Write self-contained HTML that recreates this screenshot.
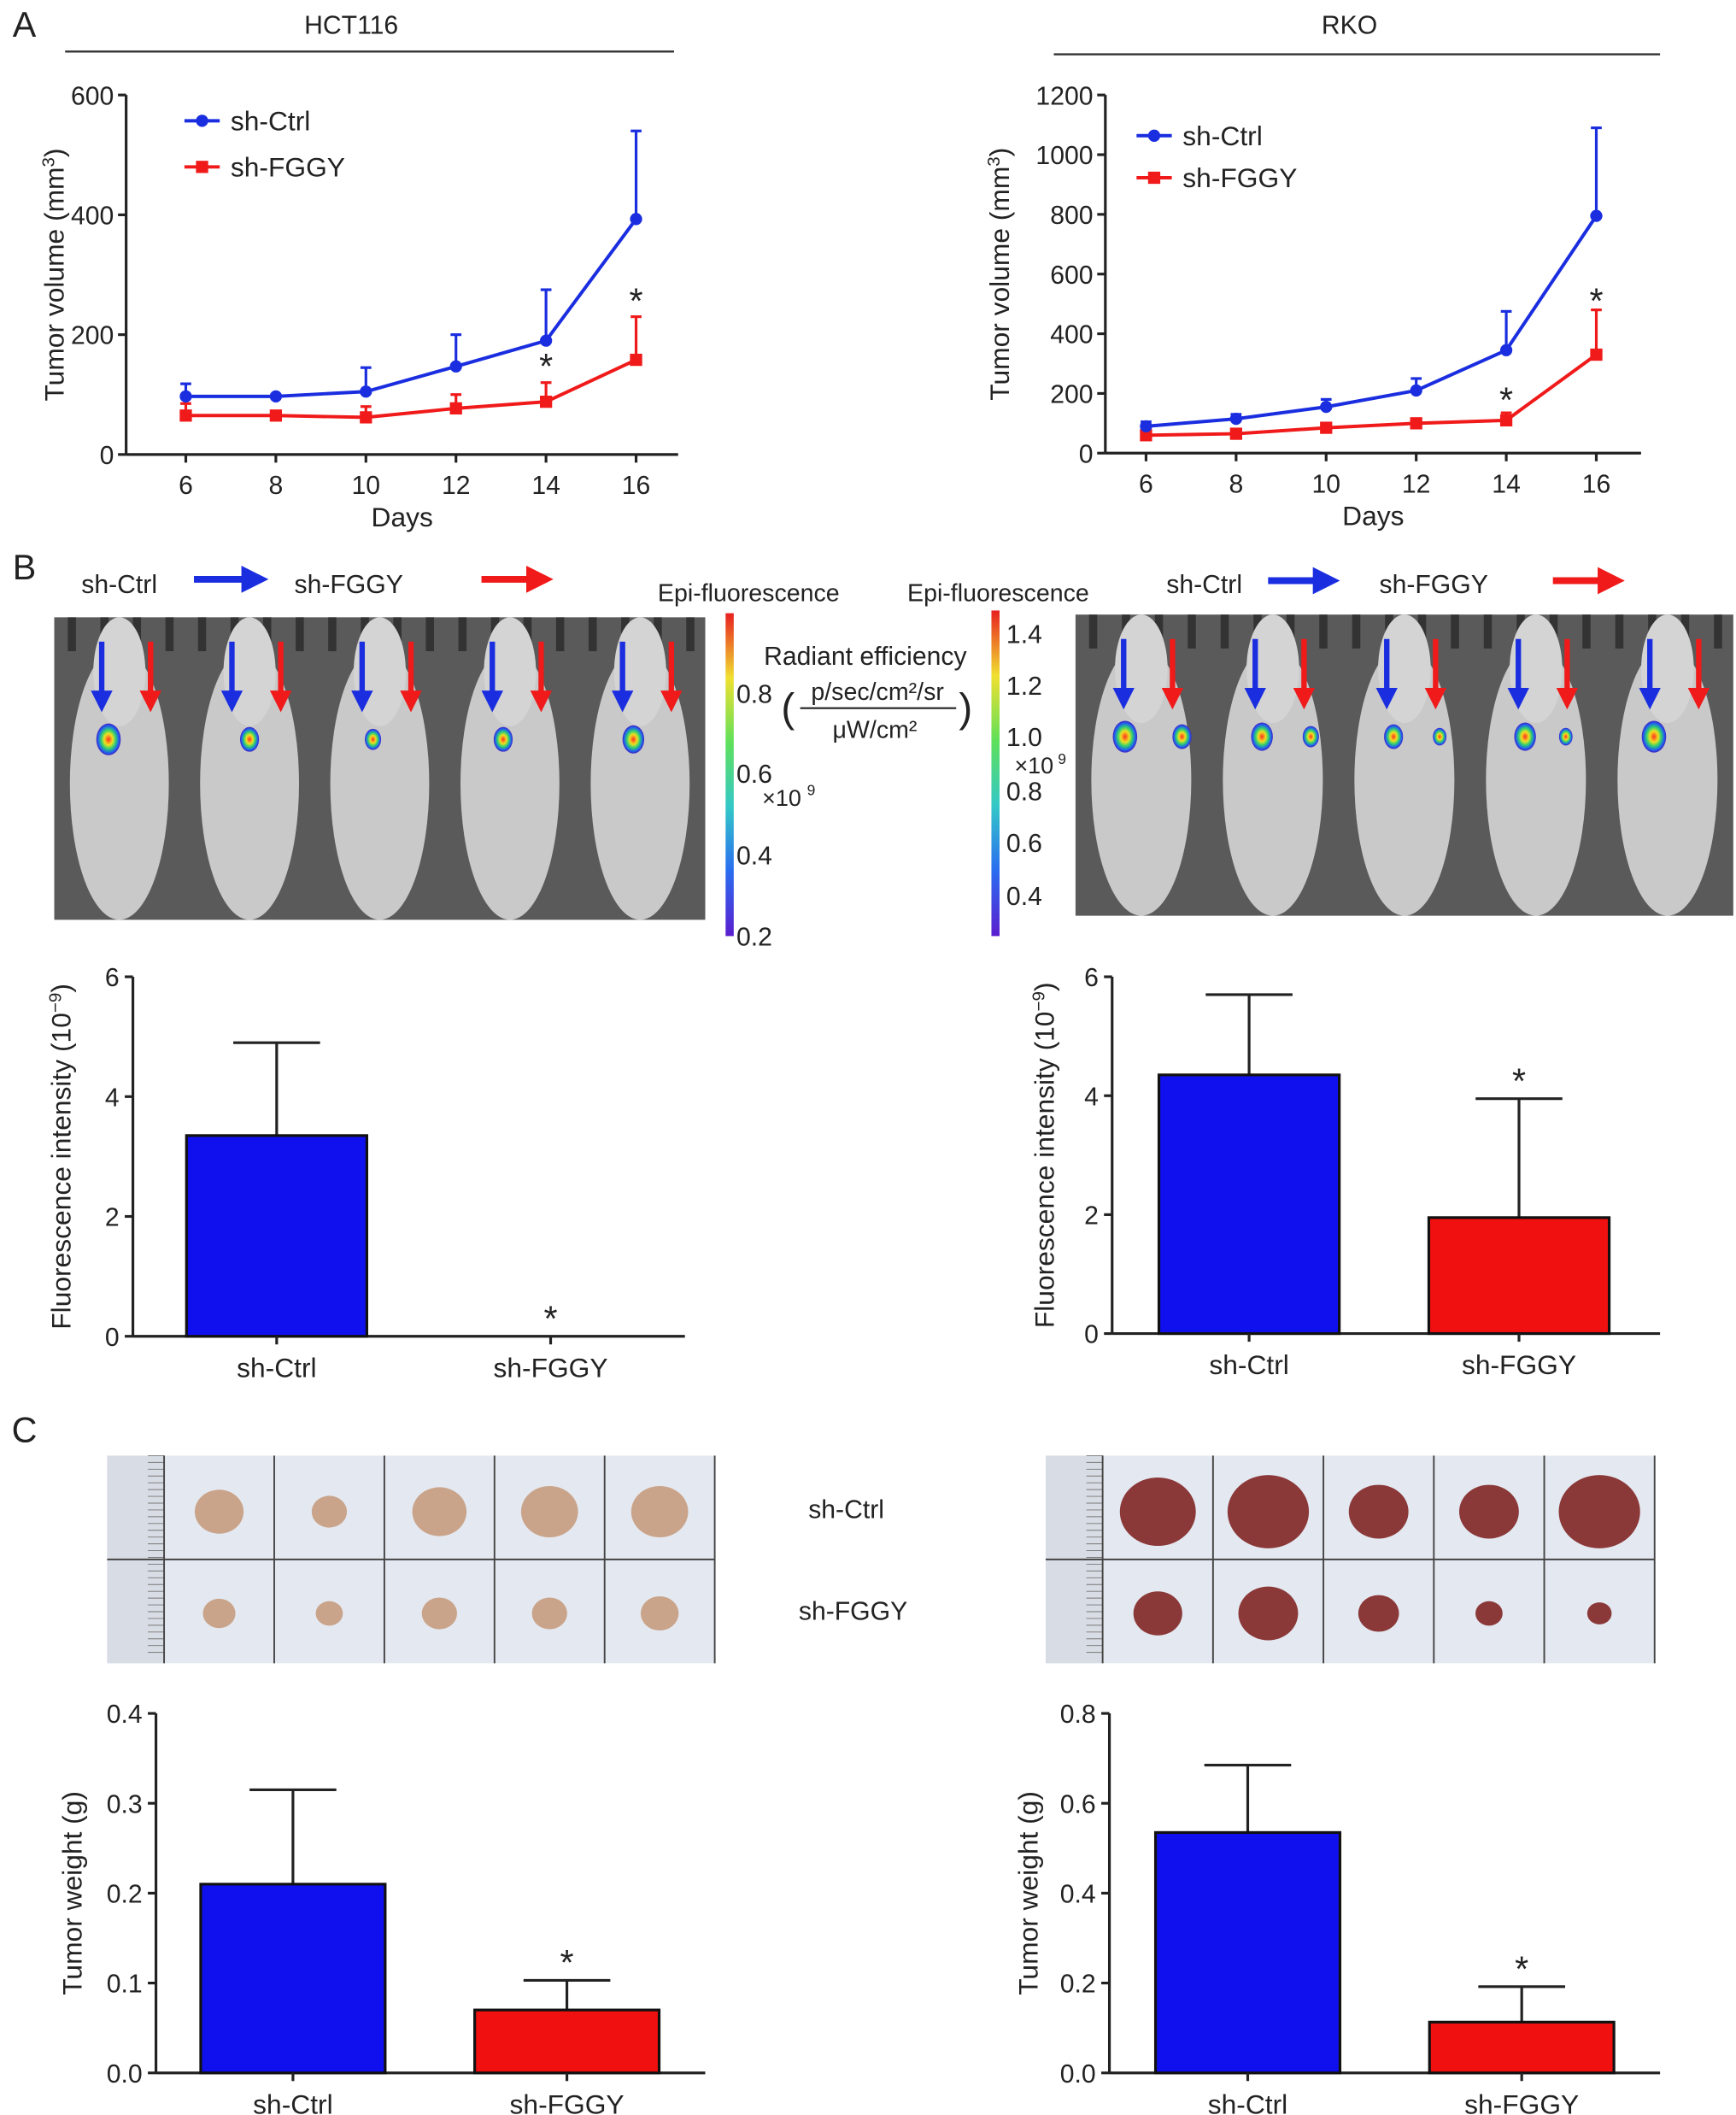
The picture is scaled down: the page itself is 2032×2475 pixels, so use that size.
<!DOCTYPE html>
<html><head><meta charset="utf-8">
<style>
html,body{margin:0;padding:0;background:#fff;}
svg{display:block;font-family:"Liberation Sans",Arial,sans-serif;}
</style></head>
<body>
<svg id="fig" width="2032" height="2475" viewBox="0 0 1280 1559" xmlns="http://www.w3.org/2000/svg">
<defs>
<linearGradient id="cb1" x1="0" y1="1" x2="0" y2="0">
<stop offset="0" stop-color="#5a1ecf"/><stop offset="0.2" stop-color="#2a6cf0"/><stop offset="0.4" stop-color="#33c8c8"/><stop offset="0.6" stop-color="#5fe05a"/><stop offset="0.8" stop-color="#f0e030"/><stop offset="1" stop-color="#e82020"/>
</linearGradient>
<radialGradient id="blob"><stop offset="0" stop-color="#ff3020"/><stop offset="0.35" stop-color="#f0e020"/><stop offset="0.6" stop-color="#30d070"/><stop offset="0.85" stop-color="#2060f0"/><stop offset="1" stop-color="#4020c0"/></radialGradient>
<marker id="ab" markerWidth="4" markerHeight="4" refX="2" refY="2" orient="auto"><path d="M0,0 L4,2 L0,4z" fill="#1a2ee0"/></marker>
<marker id="ar" markerWidth="4" markerHeight="4" refX="2" refY="2" orient="auto"><path d="M0,0 L4,2 L0,4z" fill="#f01a1a"/></marker>
</defs>
<g id="root"></g>
</svg>
<script>
// ---------- data ----------
const days = [6, 8, 10, 12, 14, 16];
const hctCtrl = [97, 97, 105, 147, 190, 393];
const hctCtrlErr = [118, 97, 145, 200, 275, 540];
const hctFggy = [65, 65, 62, 77, 88, 158];
const hctFggyErr = [85, 65, 80, 100, 120, 230];
const rkoCtrl = [90, 115, 155, 210, 345, 795];
const rkoCtrlErr = [105, 130, 180, 250, 475, 1090];
const rkoFggy = [60, 65, 85, 100, 110, 330];
const rkoFggyErr = [75, 80, 100, 112, 135, 480];
const groups = ["sh-Ctrl", "sh-FGGY"];
const fluorHct = [3.35, 0];
const fluorHctErr = [4.9, 0];
const fluorRko = [4.35, 1.95];
const fluorRkoErr = [5.7, 3.95];
const weightHct = [0.21, 0.07];
const weightHctErr = [0.315, 0.103];
const weightRko = [0.535, 0.113];
const weightRkoErr = [0.685, 0.192];
const hctYTicks = [0, 200, 400, 600];
const rkoYTicks = [0, 200, 400, 600, 800, 1000, 1200];
const fluorTicks = [0, 2, 4, 6];
const wHctTicks = ["0.0", "0.1", "0.2", "0.3", "0.4"];
const wRkoTicks = ["0.0", "0.2", "0.4", "0.6", "0.8"];

const NS = "http://www.w3.org/2000/svg";
const root = document.getElementById("root");
function el(tag, attrs, parent, text) {
  const e = document.createElementNS(NS, tag);
  for (const k in attrs) e.setAttribute(k, attrs[k]);
  if (text !== undefined) e.textContent = text;
  (parent || root).appendChild(e);
  return e;
}
function txt(x, y, s, size, anchor, parent, name) {
  const t = el("text", {x: x, y: y, "font-size": size, "text-anchor": anchor || "middle", fill: "#222"}, parent, s);
  
  
  return t;
}

// ---------- line chart ----------
function lineChart(name, ax, cfg) {
  const g = el("g", {});
  
  
  const ymax = cfg.yTicks[cfg.yTicks.length - 1];
  const sy = v => cfg.y0 - (v / ymax) * (cfg.y0 - cfg.y1);
  const sx = d => cfg.x6 + (d - 6) / 10 * (cfg.x16 - cfg.x6);
  el("line", {x1: cfg.ax, y1: cfg.y1, x2: cfg.ax, y2: cfg.y0, stroke: "#222", "stroke-width": 2}, g);
  el("line", {x1: cfg.ax, y1: cfg.y0, x2: cfg.xEnd, y2: cfg.y0, stroke: "#222", "stroke-width": 2}, g);
  cfg.yTicks.forEach(v => {
    el("line", {x1: cfg.ax - 6, y1: sy(v), x2: cfg.ax, y2: sy(v), stroke: "#222", "stroke-width": 2}, g);
    txt(cfg.ax - 9, sy(v) + 7, String(v), 19, "end", g, "y-tick-label");
  });
  days.forEach(d => {
    el("line", {x1: sx(d), y1: cfg.y0, x2: sx(d), y2: cfg.y0 + 6, stroke: "#222", "stroke-width": 2}, g);
    txt(sx(d), cfg.y0 + 29, String(d), 19, "middle", g, "x-tick-label");
  });
  txt((cfg.ax + cfg.xEnd) / 2, cfg.y0 + 53, "Days", 20, "middle", g, "x-axis-title");
  const yt = txt(0, 0, "", 20, "middle", g, "y-axis-title");
  yt.setAttribute("transform", `translate(${cfg.tx},${(cfg.y0 + cfg.y1) / 2}) rotate(-90)`);
  el("tspan", {}, yt, "Tumor volume (mm");
  el("tspan", {dy: -7, "font-size": 13}, yt, "3");
  el("tspan", {dy: 7}, yt, ")");
  const series = [[cfg.fggy, cfg.fggyErr, "#f01a1a", "sq"], [cfg.ctrl, cfg.ctrlErr, "#1a2ee0", "ci"]];
  series.forEach(([vals, errs, col, mk]) => {
    vals.forEach((v, i) => {
      const e = el("line", {x1: sx(days[i]), y1: sy(v), x2: sx(days[i]), y2: sy(errs[i]), stroke: col, "stroke-width": 2}, g);
      
      
      el("line", {x1: sx(days[i]) - 4, y1: sy(errs[i]), x2: sx(days[i]) + 4, y2: sy(errs[i]), stroke: col, "stroke-width": 2}, g);
    });
    const pts = vals.map((v, i) => sx(days[i]) + "," + sy(v)).join(" ");
    const pl = el("polyline", {points: pts, fill: "none", stroke: col, "stroke-width": 2.5}, g);
    
    
    vals.forEach((v, i) => {
      let m;
      if (mk === "ci") m = el("circle", {cx: sx(days[i]), cy: sy(v), r: 4.5, fill: col}, g);
      else m = el("rect", {x: sx(days[i]) - 4.5, y: sy(v) - 4.5, width: 9, height: 9, fill: col}, g);
      
      
    });
  });
  cfg.stars.forEach(s => txt(sx(s[0]), s[1], "*", 26, "middle", g, "significance-asterisk"));
  const lg = el("g", {}, g);
  
  
  el("line", {x1: cfg.lx, y1: cfg.ly1, x2: cfg.lx + 26, y2: cfg.ly1, stroke: "#1a2ee0", "stroke-width": 2.5}, lg);
  el("circle", {cx: cfg.lx + 13, cy: cfg.ly1, r: 4.5, fill: "#1a2ee0"}, lg);
  txt(cfg.lx + 34, cfg.ly1 + 7, "sh-Ctrl", 20, "start", lg, "legend-entry");
  el("line", {x1: cfg.lx, y1: cfg.ly2, x2: cfg.lx + 26, y2: cfg.ly2, stroke: "#f01a1a", "stroke-width": 2.5}, lg);
  el("rect", {x: cfg.lx + 8.5, y: cfg.ly2 - 4.5, width: 9, height: 9, fill: "#f01a1a"}, lg);
  txt(cfg.lx + 34, cfg.ly2 + 7, "sh-FGGY", 20, "start", lg, "legend-entry");
}

// ---------- bar chart ----------
function barChart(name, cfg) {
  const g = el("g", {});
  
  
  const ymax = parseFloat(cfg.ticks[cfg.ticks.length - 1]);
  const sy = v => cfg.y0 - (v / ymax) * (cfg.y0 - cfg.y1);
  el("line", {x1: cfg.ax, y1: cfg.y1, x2: cfg.ax, y2: cfg.y0, stroke: "#222", "stroke-width": 2}, g);
  el("line", {x1: cfg.ax, y1: cfg.y0, x2: cfg.xEnd, y2: cfg.y0, stroke: "#222", "stroke-width": 2}, g);
  cfg.ticks.forEach(v => {
    const y = sy(parseFloat(v));
    el("line", {x1: cfg.ax - 6, y1: y, x2: cfg.ax, y2: y, stroke: "#222", "stroke-width": 2}, g);
    txt(cfg.ax - 10, y + 7, String(v), 19, "end", g, "y-tick-label");
  });
  const cols = ["#1010ee", "#f01010"];
  groups.forEach((lab, i) => {
    const cx = cfg.cx[i];
    const v = cfg.vals[i], e = cfg.errs[i];
    if (e > v) {
      el("line", {x1: cx, y1: sy(v), x2: cx, y2: sy(e), stroke: "#222", "stroke-width": 2}, g);
      el("line", {x1: cx - 32, y1: sy(e), x2: cx + 32, y2: sy(e), stroke: "#222", "stroke-width": 2}, g);
    }
    if (v > 0) {
      const b = el("rect", {x: cx - cfg.bw / 2, y: sy(v), width: cfg.bw, height: cfg.y0 - sy(v), fill: cols[i], stroke: "#111", "stroke-width": 2}, g);
      
      
    }
    el("line", {x1: cx, y1: cfg.y0, x2: cx, y2: cfg.y0 + 6, stroke: "#222", "stroke-width": 2}, g);
    txt(cx, cfg.y0 + 30, lab, 20, "middle", g, "x-tick-label");
  });
  const sIdx = 1;
  const sTop = Math.max(cfg.vals[sIdx], cfg.errs[sIdx]);
  txt(cfg.cx[sIdx], sy(sTop) - 4, "*", 26, "middle", g, "significance-asterisk");
  const yt = txt(0, 0, cfg.title, 20, "middle", g, "y-axis-title");
  yt.setAttribute("transform", `translate(${cfg.tx},${(cfg.y0 + cfg.y1) / 2}) rotate(-90)`);
  if (cfg.sup) {
    el("tspan", {dy: -7, "font-size": 13}, yt, "−9");
    el("tspan", {dy: 7}, yt, ")");
  }
}

// ---------- mice photo ----------
function photo(name, x, y, w, h, blobs) {
  const g = el("g", {});
  
  
  el("rect", {x: x, y: y, width: w, height: h, fill: "#5a5a5a"}, g);
  for (let k = 0; k < 20; k++) el("rect", {x: x + 10 + k * (w / 20), y: y, width: 6, height: 25, fill: "#333"}, g);
  const mw = w / 5;
  for (let i = 0; i < 5; i++) {
    const cx = x + mw * i + mw / 2;
    el("ellipse", {cx: cx, cy: y + h * 0.55, rx: mw * 0.38, ry: h * 0.45, fill: "#c9c9c9"}, g);
    el("ellipse", {cx: cx, cy: y + h * 0.18, rx: mw * 0.2, ry: h * 0.18, fill: "#d4d4d4"}, g);
    el("line", {x1: cx - 13, y1: y + 18, x2: cx - 13, y2: y + 62, stroke: "#1a2ee0", "stroke-width": 4, "marker-end": "url(#ab)"}, g);
    el("line", {x1: cx + 23, y1: y + 18, x2: cx + 23, y2: y + 62, stroke: "#f01a1a", "stroke-width": 4, "marker-end": "url(#ar)"}, g);
    blobs[i].forEach(b => el("ellipse", {cx: cx + b[0], cy: y + 90, rx: b[1], ry: b[1] * 1.3, fill: "url(#blob)"}, g));
  }
}
function tumorPhoto(name, x, y, w, h, color, sizes) {
  const g = el("g", {});
  
  
  el("rect", {x: x, y: y, width: w, height: h, fill: "#e4e8f0"}, g);
  el("rect", {x: x, y: y, width: 42, height: h, fill: "#d8dce4"}, g);
  for (let k = 0; k < 30; k++) el("line", {x1: x + 30, y1: y + k * 5, x2: x + 42, y2: y + k * 5, stroke: "#777", "stroke-width": 0.6}, g);
  const cw = (w - 42) / 5;
  for (let i = 0; i <= 5; i++) el("line", {x1: x + 42 + cw * i, y1: y, x2: x + 42 + cw * i, y2: y + h, stroke: "#444", "stroke-width": 1.2}, g);
  el("line", {x1: x, y1: y + h / 2, x2: x + w, y2: y + h / 2, stroke: "#444", "stroke-width": 1.2}, g);
  for (let r = 0; r < 2; r++) for (let i = 0; i < 5; i++) {
    const s = sizes[r][i];
    el("ellipse", {cx: x + 42 + cw * i + cw / 2, cy: y + h * (r ? 0.76 : 0.27), rx: s, ry: s * 0.9, fill: color}, g);
  }
}

// ---------- headers ----------
txt(18, 27, "A", 26, "middle", null, "panel-label-a");
txt(259, 25, "HCT116", 19, "middle", null, "hct116-title");
el("line", {x1: 48, y1: 38, x2: 497, y2: 38, stroke: "#333", "stroke-width": 1.5});
txt(995, 25, "RKO", 19, "middle", null, "rko-title");
el("line", {x1: 777, y1: 40, x2: 1224, y2: 40, stroke: "#333", "stroke-width": 1.5});

lineChart("hct116-volume-chart", null, {ax: 93, y0: 335, y1: 70, xEnd: 500, x6: 137, x16: 469, yTicks: hctYTicks, tx: 47,
  ctrl: hctCtrl, ctrlErr: hctCtrlErr, fggy: hctFggy, fggyErr: hctFggyErr, stars: [[14, 279], [16, 231]], lx: 136, ly1: 89, ly2: 123});
lineChart("rko-volume-chart", null, {ax: 815, y0: 334, y1: 70, xEnd: 1210, x6: 845, x16: 1177, yTicks: rkoYTicks, tx: 744,
  ctrl: rkoCtrl, ctrlErr: rkoCtrlErr, fggy: rkoFggy, fggyErr: rkoFggyErr, stars: [[14, 304], [16, 231]], lx: 838, ly1: 100, ly2: 131});

// ---------- B ----------
txt(18, 427, "B", 26, "middle", null, "panel-label-b");
txt(60, 437, "sh-Ctrl", 19, "start", null, "legend-sh-ctrl");
el("line", {x1: 143, y1: 427, x2: 188, y2: 427, stroke: "#1a2ee0", "stroke-width": 5, "marker-end": "url(#ab)"});
txt(217, 437, "sh-FGGY", 19, "start", null, "legend-sh-fggy");
el("line", {x1: 355, y1: 427, x2: 398, y2: 427, stroke: "#f01a1a", "stroke-width": 5, "marker-end": "url(#ar)"});
txt(860, 437, "sh-Ctrl", 19, "start", null, "legend-sh-ctrl");
el("line", {x1: 935, y1: 428, x2: 978, y2: 428, stroke: "#1a2ee0", "stroke-width": 5, "marker-end": "url(#ab)"});
txt(1017, 437, "sh-FGGY", 19, "start", null, "legend-sh-fggy");
el("line", {x1: 1145, y1: 428, x2: 1188, y2: 428, stroke: "#f01a1a", "stroke-width": 5, "marker-end": "url(#ar)"});

photo("hct116-mice-image", 40, 455, 480, 223, [[[-8, 9]], [[0, 7]], [[-5, 6]], [[-5, 7]], [[-5, 8]]]);
photo("rko-mice-image", 793, 453, 485, 222, [[[-12, 9], [30, 7]], [[-8, 8], [28, 6]], [[-8, 7], [26, 5]], [[-8, 8], [22, 5]], [[-10, 9]]]);

el("rect", {x: 535, y: 452, width: 6, height: 238, fill: "url(#cb1)"});
txt(552, 443, "Epi-fluorescence", 18, "middle", null, "colorbar-title");
[["0.8", 518], ["0.6", 577], ["0.4", 637], ["0.2", 697]].forEach(a => txt(543, a[1], a[0], 19, "start", null, "colorbar-tick"));
txt(562, 594, "×10", 17, "start", null, "colorbar-exponent");
txt(595, 586, "9", 11, "start", null, "colorbar-exponent");
txt(638, 490, "Radiant efficiency", 19, "middle", null, "radiant-efficiency-label");
txt(576, 532, "(", 30, "start", null, "paren");
txt(647, 516, "p/sec/cm²/sr", 18, "middle", null, "unit-numerator");
el("line", {x1: 590, y1: 522, x2: 705, y2: 522, stroke: "#222", "stroke-width": 1.3});
txt(645, 544, "μW/cm²", 18, "middle", null, "unit-denominator");
txt(707, 532, ")", 30, "start", null, "paren");
el("rect", {x: 731, y: 450, width: 6, height: 240, fill: "url(#cb1)"});
txt(736, 443, "Epi-fluorescence", 18, "middle", null, "colorbar-title");
[["1.4", 474], ["1.2", 512], ["1.0", 550], ["0.8", 590], ["0.6", 628], ["0.4", 667]].forEach(a => txt(742, a[1], a[0], 19, "start", null, "colorbar-tick"));
txt(748, 570, "×10", 17, "start", null, "colorbar-exponent");
txt(780, 563, "9", 11, "start", null, "colorbar-exponent");

barChart("hct116-fluorescence-chart", {ax: 98, y0: 985, y1: 720, xEnd: 505, ticks: fluorTicks, cx: [204, 406], bw: 133,
  vals: fluorHct, errs: fluorHctErr, title: "Fluorescence intensity (10", sup: true, tx: 52});
barChart("rko-fluorescence-chart", {ax: 820, y0: 983, y1: 720, xEnd: 1224, ticks: fluorTicks, cx: [921, 1120], bw: 133,
  vals: fluorRko, errs: fluorRkoErr, title: "Fluorescence intensity (10", sup: true, tx: 777});

// ---------- C ----------
txt(18, 1063, "C", 26, "middle", null, "panel-label-c");
tumorPhoto("hct116-tumor-image", 79, 1073, 448, 153, "#c9a48a", [[18, 13, 20, 21, 21], [12, 10, 13, 13, 14]]);
tumorPhoto("rko-tumor-image", 771, 1073, 449, 153, "#8a3838", [[28, 30, 22, 22, 30], [18, 22, 15, 10, 9]]);
txt(624, 1119, "sh-Ctrl", 19, "middle", null, "row-label-sh-ctrl");
txt(629, 1194, "sh-FGGY", 19, "middle", null, "row-label-sh-fggy");

barChart("hct116-weight-chart", {ax: 115, y0: 1528, y1: 1263, xEnd: 520, ticks: wHctTicks, cx: [216, 418], bw: 136,
  vals: weightHct, errs: weightHctErr, title: "Tumor weight (g)", sup: false, tx: 60});
barChart("rko-weight-chart", {ax: 818, y0: 1528, y1: 1263, xEnd: 1224, ticks: wRkoTicks, cx: [920, 1122], bw: 136,
  vals: weightRko, errs: weightRkoErr, title: "Tumor weight (g)", sup: false, tx: 765});
</script>
</body></html>
